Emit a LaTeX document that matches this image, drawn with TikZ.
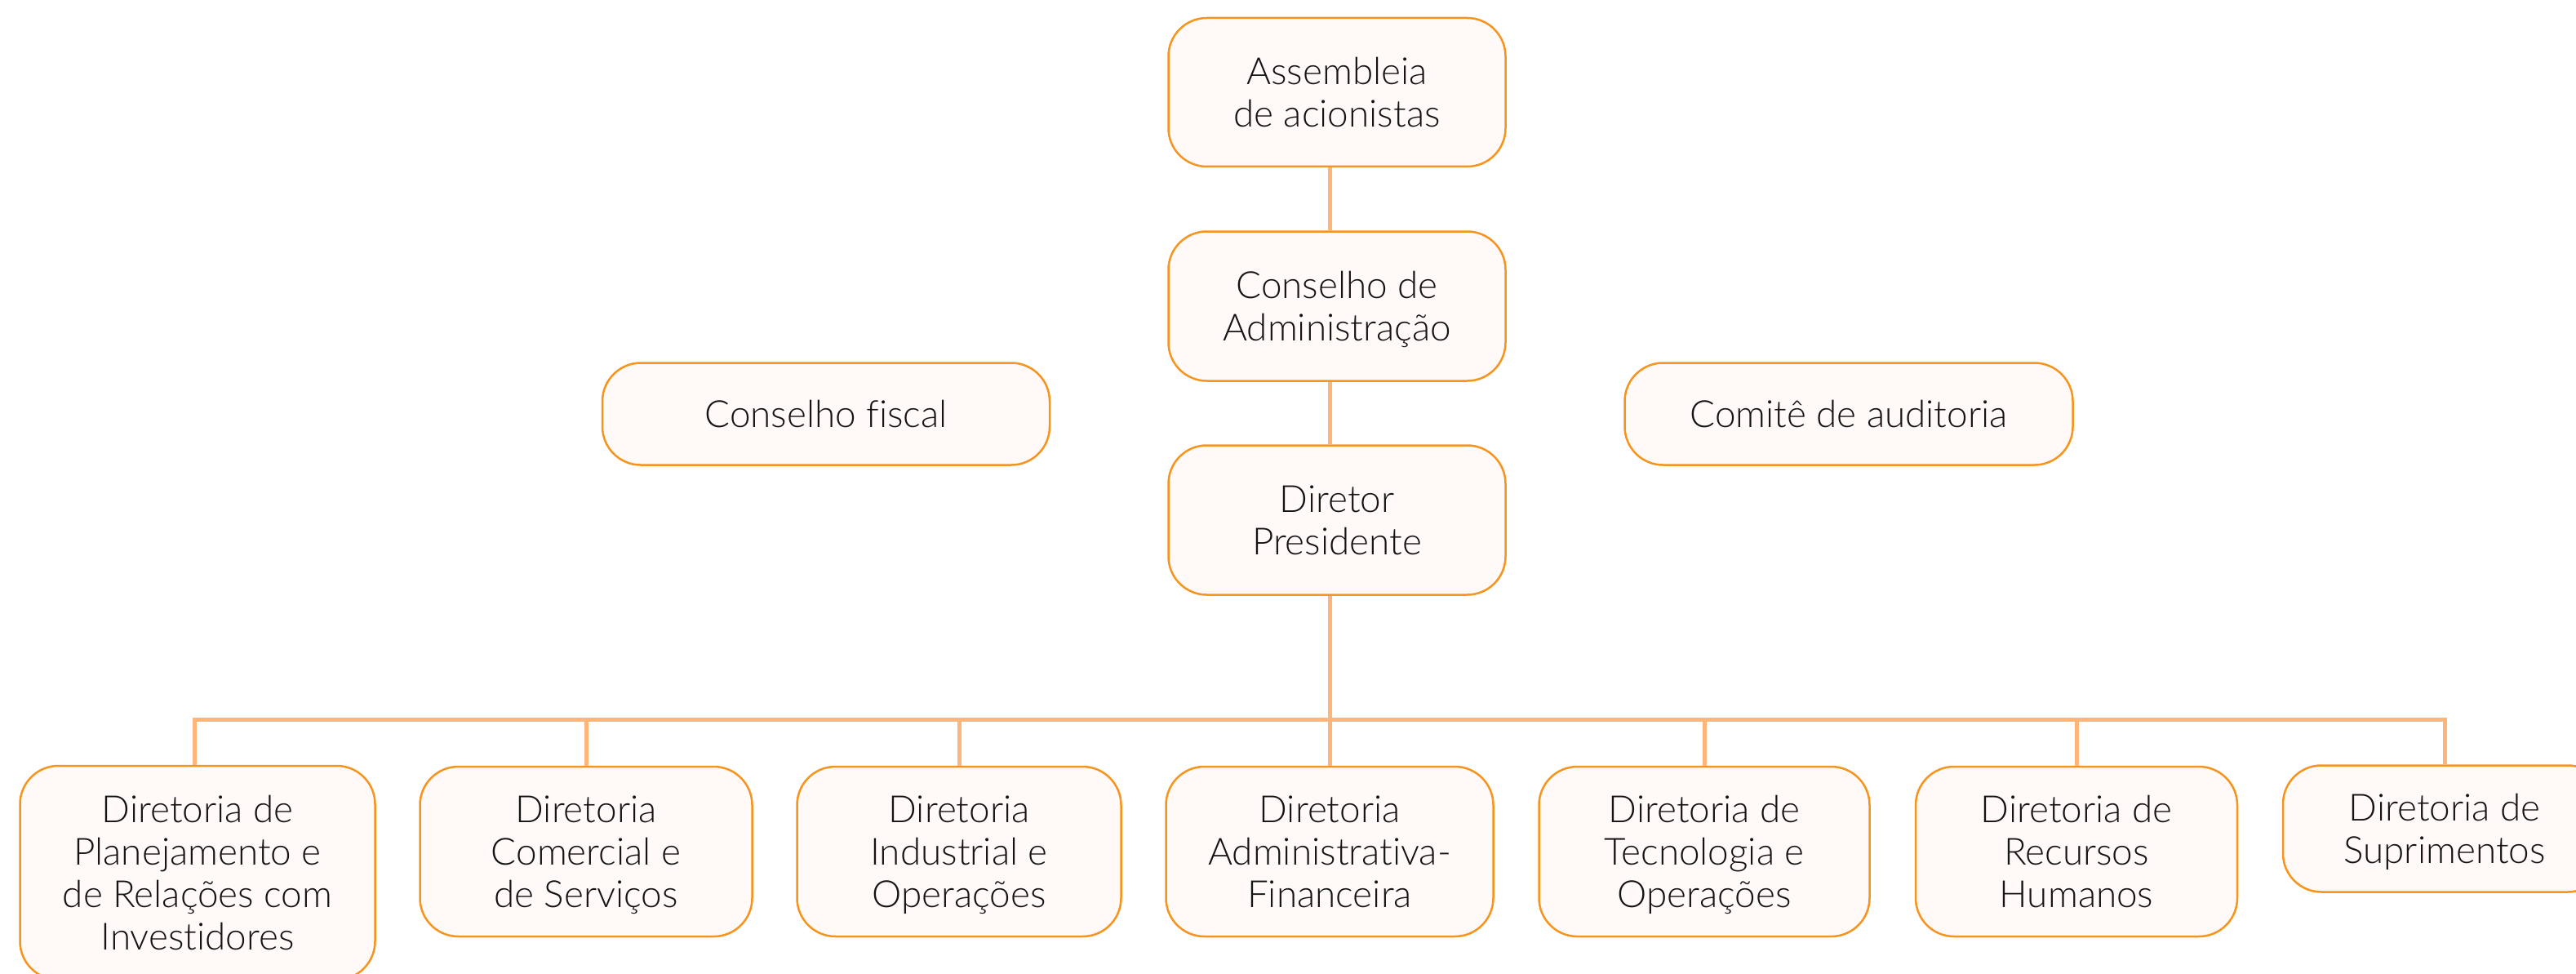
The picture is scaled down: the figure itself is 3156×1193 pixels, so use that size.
\documentclass[tikz,border=0pt]{standalone}
\usepackage{fontspec}
\setmainfont{Lato Light}[Ligatures={NoCommon}]
\definecolor{boxborder}{HTML}{F7941E}
\definecolor{boxfill}{HTML}{FFFAF8}
\definecolor{linkcol}{HTML}{FDB57A}
\begin{document}
\begin{tikzpicture}[x=1pt,y=-1pt,
  orgbox/.style={draw=boxborder, fill=boxfill, line width=2.5pt, rounded corners=47pt,
    align=center, inner sep=0pt, text depth=0pt, font=\fontsize{45.8}{52}\selectfont, text=black!92},
  link/.style={draw=linkcol, line width=5pt}]
\useasboundingbox (0,0) rectangle (3156,1193);
\begin{scope}
\clip (0,0) rectangle (3156,1193);
% top column
\node[orgbox, minimum width=413pt, minimum height=182pt] (ag) at (1638,113) {Assembleia\\de acionistas};
\node[orgbox, minimum width=413pt, minimum height=183pt] (ca) at (1638,375) {Conselho de\\Administração};
\node[orgbox, minimum width=413pt, minimum height=183pt] (dp) at (1638,637) {Diretor\\Presidente};
\node[orgbox, minimum width=548pt, minimum height=125pt] (cf) at (1012,507) {Conselho fiscal};
\node[orgbox, minimum width=549pt, minimum height=125pt] (cm) at (2265,507) {Comitê de auditoria};
% bottom row
\node[orgbox, minimum width=435pt, minimum height=262pt] (d1) at (242,1069) {Diretoria de\\Planejamento e\\de Relações com\\Investidores};
\node[orgbox, minimum width=407pt, minimum height=208pt] (d2) at (718,1043) {Diretoria\\Comercial e\\de Serviços};
\node[orgbox, minimum width=397pt, minimum height=208pt] (d3) at (1175,1043) {Diretoria\\Industrial e\\Operações};
\node[orgbox, minimum width=401pt, minimum height=208pt] (d4) at (1629,1043) {Diretoria\\Administrativa-\\Financeira};
\node[orgbox, minimum width=405pt, minimum height=208pt] (d5) at (2088,1043) {Diretoria de\\Tecnologia e\\Operações};
\node[orgbox, minimum width=394pt, minimum height=208pt] (d6) at (2544,1043) {Diretoria de\\Recursos\\Humanos};
\node[orgbox, minimum width=396pt, minimum height=155pt] (d7) at (2995,1015) {Diretoria de\\Suprimentos};
\end{scope}
% connectors
\coordinate (bus) at (1629,881);
\draw[link] ([xshift=-9pt]ag.south) -- ([xshift=-9pt]ca.north);
\draw[link] ([xshift=-9pt]ca.south) -- ([xshift=-9pt]dp.north);
\draw[link] ([xshift=-9pt]dp.south) -- (bus);
\draw[link] ([xshift=-4pt]d1.north) -- ([xshift=-4pt]d1.north |- bus) -- (d7.north |- bus) -- (d7.north);
\foreach \n in {d2,d3,d4,d5,d6} {\draw[link] (\n.north) -- (\n.north |- bus);}
\end{tikzpicture}
\end{document}
